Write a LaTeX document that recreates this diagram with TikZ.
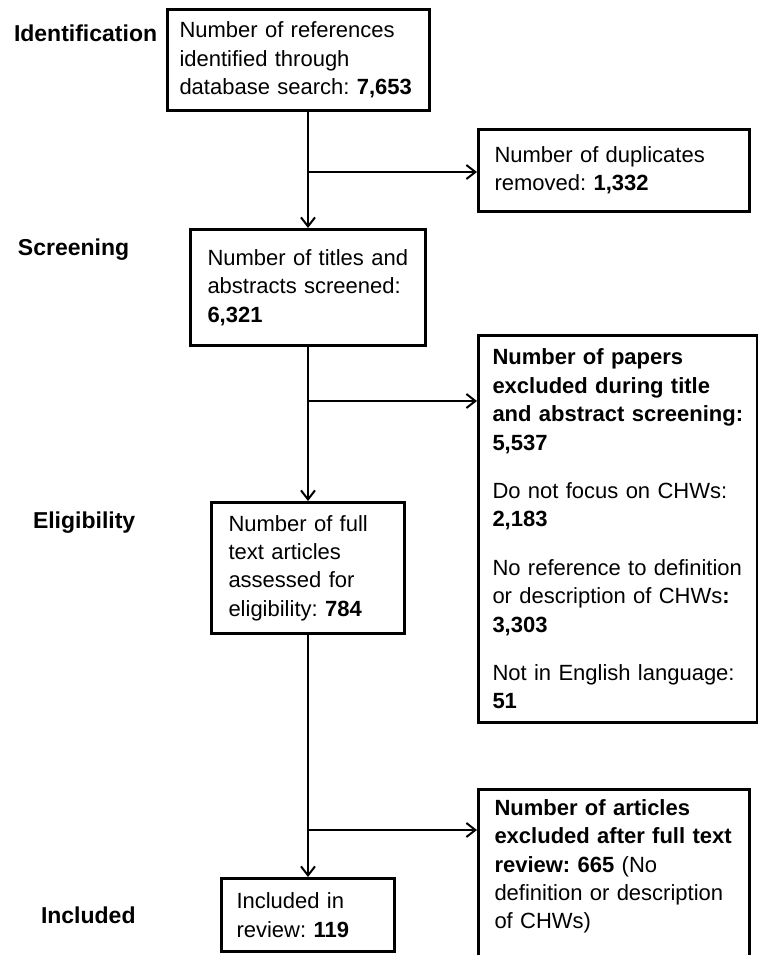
\documentclass[tikz,border=0pt]{standalone}
\usepackage{fontspec}
\setmainfont{Liberation Sans}[WordSpace=0.85]
\usepackage{tikz}
\usetikzlibrary{arrows.meta}
\frenchspacing

\begin{document}
\begin{tikzpicture}[x=0.5pt, y=-0.5pt, line width=1pt,
    box/.style={rectangle, draw, line width=1.5pt, anchor=north west, align=left, inner xsep=8pt, inner ysep=0pt, font=\fontsize{11}{14.2}\selectfont},
    stage/.style={anchor=west, inner sep=0pt, font=\fontsize{11.5}{14.2}\selectfont\bfseries},
    >={Straight Barb[length=4.5pt, width=7pt]}]
    \useasboundingbox (0,0) rectangle (758,955);
    \clip (0,0) rectangle (758,955);

    \node[stage] (lid) at (13,33) {Identification};
    \node[stage] (lscr) at (17,250) {Screening};
    \node[stage] (lelig) at (32,523) {Eligibility};
    \node[stage] (lincl) at (40,915) {Included};

    \node[box, text width=119pt, inner xsep=6pt, minimum height=50.5pt] (ident) at (166,8) {Number of references\\identified through\\database search: \textbf{7,653}};
    \node[box, text width=119.5pt, minimum height=41pt] (dup) at (477,128) {Number of duplicates\\removed: \textbf{1,332}};
    \node[box, text width=100.5pt, inner xsep=8.5pt, minimum height=58pt] (screen) at (189,228) {Number of titles and\\abstracts screened:\\\textbf{6,321}};
    \node[box, text width=125.5pt, inner xsep=7pt, minimum height=193.5pt] (excl1) at (477,334) {\textbf{Number of papers}\\\textbf{excluded during title}\\\textbf{and abstract screening:}\\\textbf{5,537}\\[10pt]Do not focus on CHWs:\\\textbf{2,183}\\[10pt]No reference to definition\\or description of CHWs\textbf{:}\\\textbf{3,303}\\[10pt]Not in English language:\\\textbf{51}};
    \node[box, text width=79.5pt, inner xsep=8.5pt, minimum height=65.5pt] (elig) at (210,501) {Number of full\\text articles\\assessed for\\eligibility: \textbf{784}};
    \node[box, text width=71.5pt, inner xsep=7.5pt, minimum height=36.5pt] (incl) at (220,877) {Included in\\review: \textbf{119}};
    \node[box, text width=119.5pt, minimum height=93pt] (excl2) at (477,788) {\textbf{Number of articles}\\\textbf{excluded after full text}\\\textbf{review: 665} (No\\definition or description\\of CHWs)\\\strut};

    \coordinate (b1) at (307,172);
    \coordinate (b2) at (307,401);
    \coordinate (b3) at (307,830);

    \draw[->] (ident.south -| screen.north) -- (screen.north);
    \draw[->] (b1) -- (b1 -| dup.west);
    \draw[->] (screen.south) -- (elig.north);
    \draw[->] (b2) -- (b2 -| excl1.west);
    \draw[->] (elig.south) -- (incl.north);
    \draw[->] (b3) -- (b3 -| excl2.west);
\end{tikzpicture}
\end{document}
